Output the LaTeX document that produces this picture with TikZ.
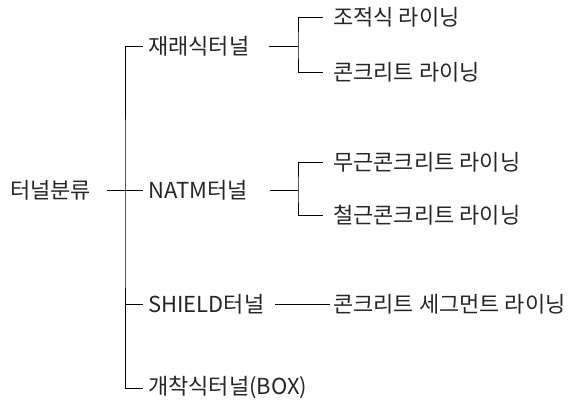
\documentclass[tikz,border=0pt]{standalone}
\usepackage{fontspec}
\setmainfont{Noto Sans CJK KR}
\usepackage{tikz}

\tikzset{
  lbl/.style={anchor=west, inner sep=0pt, text=black!85, font=\fontsize{22}{26}\selectfont},
  ln/.style={line width=0.8pt},
}

\begin{document}
\begin{tikzpicture}[x=1pt,y=-1pt]
	\useasboundingbox (0,0) rectangle (578,401);

	\node[lbl] (root) at (10,190) {터널분류};

	\node[lbl] (jr) at (148,46) {재래식터널};
	\node[lbl] (natm) at (148,190) {NATM터널};
	\node[lbl] (shield) at (148,304) {SHIELD터널};
	\node[lbl] (box) at (148,388) {개착식터널(BOX)};

	\node[lbl] (jr1) at (333,17) {조적식 라이닝};
	\node[lbl] (jr2) at (333,72) {콘크리트 라이닝};
	\node[lbl] (na1) at (333,162) {무근콘크리트 라이닝};
	\node[lbl] (na2) at (333,215) {철근콘크리트 라이닝};
	\node[lbl] (sh1) at (333,304) {콘크리트 세그먼트 라이닝};

	\coordinate (trunk) at (125,190);
	\coordinate (jrfork) at (298,46);
	\coordinate (nafork) at (298,190);

	\draw[ln, shorten <=16pt, shorten >=5pt] (root) -- (natm); % radice
	\draw[ln] ([xshift=-5pt]jr.west) -| (trunk) |- ([xshift=-5pt]box.west); % tronco
	\draw[ln] ([xshift=-5pt]shield.west) -- (trunk |- shield.west);

	\draw[ln, shorten <=19pt] (jr.east) -- (jrfork); %재래식
	\draw[ln] ([xshift=-10pt]jr1.west) -| (jrfork) |- ([xshift=-10pt]jr2.west);

	\draw[ln, shorten <=22pt] (natm.east) -- (nafork); % NATM
	\draw[ln] ([xshift=-10pt]na1.west) -| (nafork) |- ([xshift=-10pt]na2.west);

	\draw[ln, shorten <=11pt, shorten >=3pt] (shield) -- (sh1); % SHIELD
\end{tikzpicture}
\end{document}
